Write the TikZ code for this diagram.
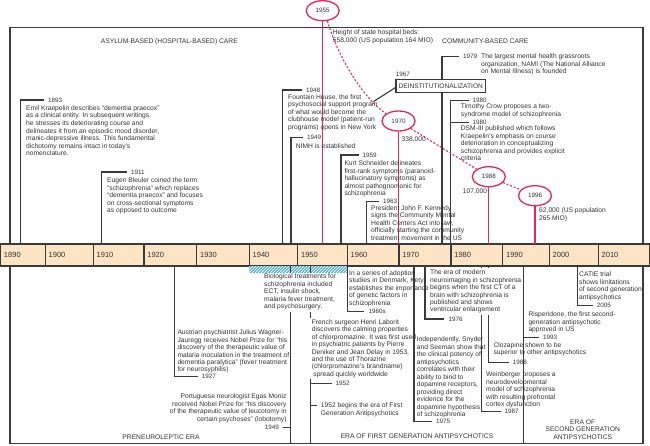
\documentclass[tikz,border=0pt]{standalone}
\usepackage{fontspec}
\setmainfont{Liberation Sans}
\usetikzlibrary{shapes.geometric}
\definecolor{ink}{HTML}{333333}
\definecolor{lin}{HTML}{3A3A3A}
\definecolor{peach}{HTML}{FCE4C4}
\definecolor{hred}{HTML}{E5285A}
\definecolor{hblue}{HTML}{2FA8E0}
\begin{document}
\begin{tikzpicture}[x=1pt,y=-1pt,
  txt/.style={font=\fontsize{6.7}{7.45}\selectfont, inner sep=0pt, align=left, anchor=north west, text=ink, execute at begin node={\rule{0pt}{5.3pt}}},
  txtf/.style={txt, fill=white, inner xsep=2pt, inner ysep=1.5pt},
  yr/.style={font=\fontsize{6.3}{7}\selectfont, inner xsep=4pt, inner ysep=0pt, anchor=west, text=ink},
  tl/.style={font=\fontsize{7.5}{8}\selectfont, inner sep=0pt, anchor=west, text=ink},
  cell/.style={draw=lin, fill=peach, line width=1.1pt},
  frame/.style={draw=lin, line width=1.2pt},
  br/.style={draw=lin, line width=1.1pt},
  rl/.style={draw=hred, line width=1.2pt},
  rd/.style={draw=hred, line width=1.1pt, dash pattern=on 2pt off 1.8pt},
  ell/.style={ellipse, draw=hred, line width=1.3pt, minimum width=33pt, minimum height=20pt, inner sep=0pt, fill=white, font=\fontsize{6.3}{7}\selectfont, text=ink},
  boxst/.style={draw=lin, line width=1.4pt, fill=white, minimum width=89.3pt, minimum height=12.7pt, inner sep=0pt, font=\fontsize{6.6}{7}\selectfont, text=ink}
]
\useasboundingbox (0,0) rectangle (650,445);

% frame
\draw[frame] (10,27.7) rectangle (643,443.5);

% timeline
\foreach \a/\b/\t in {0.6/45.3/1890,45.3/93.3/1900,93.3/144/1910,144/196.7/1920,196.7/249.3/1930,249.3/297.7/1940,297.7/347.3/1950,347.3/399/1960,399/451/1970,451/502.7/1980,502.7/549.3/1990,549.3/598.3/2000,598.3/649.4/2010}{
  \draw[cell] (\a,244) rectangle (\b,266);
  \node[tl] (t\t) at (\a+3.2,255) {\t};
}

% hatched bar
\begin{scope}
\clip (249.3,266.6) rectangle (347.3,272.6);
\fill[hblue] (249.3,266) rectangle (347.3,273);
\foreach \k in {0,...,36} \draw[white,line width=0.8pt] ({243+3*\k},273) -- ({250+3*\k},266);
\end{scope}

% year labels
\node[yr] (y1893) at (44,100) {1893};
\node[yr] (y1911) at (127,172) {1911};
\node[yr] (y1948) at (302,90) {1948};
\node[yr] (y1949) at (303,137.3) {1949};
\node[yr] (y1959) at (358.5,155) {1959};
\node[yr] (y1963) at (379,201.7) {1963};
\node[yr] (y1979) at (459,56.7) {1979};
\node[yr] (y1980a) at (468.5,100.5) {1980};
\node[yr] (y1980b) at (468.5,122.7) {1980};
\node[yr] (y1967) at (391.7,74.3) {1967};
\node[yr] (y1927) at (197.7,376.7) {1927};
\node[yr] (y1960s) at (364.3,311.7) {1960s};
\node[yr] (y1976) at (444.3,319) {1976};
\node[yr] (y2005) at (592.7,305.5) {2005};
\node[yr] (y1975) at (432,421.7) {1975};
\node[yr] (y1952) at (331.5,383.3) {1952};
\node[yr] (y1993) at (539,337.7) {1993};
\node[yr] (y1988) at (508.7,362.3) {1988};
\node[yr] (y1987) at (500.5,411.7) {1987};
\node[yr,anchor=east] (y1949m) at (283,427.5) {1949};

% coordinates
\coordinate (a1893) at (20.7,244);
\coordinate (a1911) at (101.7,244);
\coordinate (a1948) at (282.7,244);
\coordinate (a1949) at (291,244);
\coordinate (a1959) at (341,244);
\coordinate (a1963) at (366.7,244);
\coordinate (a1979) at (442,244);
\coordinate (a1980) at (450.7,244);
\coordinate (a1927) at (174.7,266);
\coordinate (a1949m) at (290.7,266);
\coordinate (z1949m) at (290.7,443.5);
\coordinate (a1952) at (310.7,266);
\coordinate (z1952) at (310.7,443.5);
\coordinate (a1960s) at (347.3,266);
\coordinate (a1976) at (425,266);
\coordinate (a1987) at (481.7,266);
\coordinate (a1988) at (488.3,266);
\coordinate (a1993) at (523.5,266);
\coordinate (z1993) at (523.5,443.5);
\coordinate (a2005) at (577.3,266);
\coordinate (a1975) at (414,266);
\coordinate (c52a) at (310.7,405.7);
\coordinate (c52b) at (317.3,405.7);
\coordinate (dcon) at (373.5,101.5);
\coordinate (r55) at (322.7,244);
\coordinate (r70) at (398.5,244);
\coordinate (r88) at (488.8,244);
\coordinate (r96) at (535,244);

% ellipses
\node[ell] (e55) at (322.7,10.7) {1955};
\node[ell] (e70) at (398.5,121) {1970};
\node[ell] (e88) at (488.8,176.7) {1988};
\node[ell] (e96) at (535,195.7) {1996};

% bracket lines
\draw[br] (a1893) |- (y1893.west);
\draw[br] (a1911) |- (y1911.west);
\draw[br] (a1948) |- (y1948.west);
\draw[br] (a1949) |- (y1949.west);
\draw[br] (a1959) |- (y1959.west);
\draw[br] (a1963) |- (y1963.west);
\draw[br] (a1979) |- (y1979.west);
\draw[br] (a1980) |- (y1980a.west);
\draw[br] (a1980) |- (y1980b.west);
\draw[br] (a1927) |- (y1927.west);
\draw[br] (a1949m) -- (z1949m);
\draw[br] (z1949m) |- (y1949m.east);
\draw[br] (a1952) -- (z1952);
\draw[br] (a1952) |- (y1952.west);
\draw[br] (c52a) -- (c52b);
\draw[br] (a1960s) |- (y1960s.west);
\draw[br] (a1976) |- (y1976.west);
\draw[br] (a1987) |- (y1987.west);
\draw[br] (a1988) |- (y1988.west);
\draw[br] (a2005) |- (y2005.west);

% red lines
\draw[rl] (e55) -- (r55);
\draw[rl] (e70) -- (r70);
\draw[rl] (e88) -- (r88);
\draw[rl] (e96) -- (r96);
\draw[rd] (e55.-65) .. controls (334,45) and (356,92) .. (e70.150);
\draw[rd] (e70) -- (e88);
\draw[rd] (e88) -- (e96);

% filled text nodes
\node[txtf] (bio) at (262,272.4) {Biological treatments for\\schizophrenia included\\ECT, insulin shock,\\malaria fever treatment,\\and psychosurgery.};
\node[txtf] (french) at (309.7,317.7) {French surgeon Henri Laborit\\discovers the calming properties\\of chlorpromazine. It was first used\\in psychiatric patients by Pierre\\Deniker and Jean Delay in 1953,\\and the use of Thorazine\\(chlorpromazine’s brandname)\\\hspace*{1.5pt}spread quickly worldwide};
\node[txtf] (neuro) at (428,268.1) {The era of modern\\neuroimaging in schizophrenia\\begins when the first CT of a\\brain with schizophrenia is\\published and shows\\ventricular enlargement};
\node[boxst] (deinst) at (440.8,86) {DEINSTITUTIONALIZATION};

% lines on top of filled nodes
\draw[br] (a1975) |- (y1975.west);
\draw[br] (a1993) -- (z1993);
\draw[br] (a1993) |- (y1993.west);
\draw[br] (deinst.182) -- (dcon);

% other text
\node[txt, font=\fontsize{6.7}{7.6}\selectfont] (kraep) at (26,105.2) {Emil Kraepelin describes “dementia praecox”\\as a clinical entity. In subsequent writings,\\he stresses its deteriorating course and\\delineates it from an episodic mood disorder,\\manic-depressive illness. This fundamental\\dichotomy remains intact in today’s\\nomenclature.};
\node[txt] (bleuler) at (107,177.6) {Eugen Bleuler coined the term\\“schizophrenia” which replaces\\“dementia praecox” and focuses\\on cross-sectional symptoms\\as opposed to outcome};
\node[txt] (fountain) at (288,94.2) {Fountain House, the first\\psychosocial support program\\of what would become the\\clubhouse model (patient-run\\programs) opens in New York};
\node[txt] (nimh) at (295.7,143.2) {NIMH is established};
\node[txt] (height) at (332.7,29.9) {Height of state hospital beds:\\558,000 (US population 164 MIO)};
\node[txt, anchor=north, align=center] (asylum) at (169.3,37.6) {ASYLUM-BASED (HOSPITAL-BASED) CARE};
\node[txt] (community) at (442,37.9) {COMMUNITY-BASED CARE};
\node[txt] (nami) at (481,53.9) {The largest mental health grassroots\\organization, NAMI (The National Alliance\\on Mental Illness) is founded};
\node[txt] (crow) at (460.7,103.6) {Timothy Crow proposes a two-\\syndrome model of schizophrenia};
\node[txt] (dsm) at (460.7,125.9) {DSM-III published which follows\\Kraepelin’s emphasis on course\\deterioration in conceptualizing\\schizophrenia and provides explicit\\criteria};
\node[txt] (schneider) at (344.3,160.9) {Kurt Schneider delineates\\first-rank symptoms (paranoid-\\hallucinatory symptoms) as\\almost pathognomonic for\\schizophrenia};
\node[txt] (jfk) at (371,205.2) {President John F. Kennedy\\signs the Community Mental\\Health Centers Act into law,\\officially starting the community\\treatment movement in the US};
\node[txt] (v338) at (401.5,136.2) {338,000};
\node[txt, anchor=north east] (v107) at (487.3,187.9) {107,000};
\node[txt] (v62) at (539,207.9) {62,000 (US population\\265 MIO)};
\node[txt] (kety) at (349,270.2) {In a series of adoption\\studies in Denmark, Kety\\establishes the importance\\of genetic factors in\\schizophrenia};
\node[txt] (catie) at (579,271.9) {CATIE trial\\shows limitations\\of second generation\\antipsychotics};
\node[txt] (austrian) at (177.3,329.6) {Austrian psychiatrist Julius Wagner-\\Jauregg receives Nobel Prize for “his\\discovery of the therapeutic value of\\malaria inoculation in the treatment of\\dementia paralytica” (fever treatment\\for neurosyphilis)};
\node[txt] (era52) at (320.7,402.6) {1952 begins the era of First\\Generation Antipsychotics};
\node[txt, anchor=north east, align=right] (moniz) at (286.7,393.6) {Portuguese neurologist Egas Moniz\\received Nobel Prize for “his discovery\\of the therapeutic value of leucotomy in\\certain psychoses” (lobotomy)};
\node[txt] (snyder) at (416.7,336.9) {Independently, Snyder\\and Seeman show that\\the clinical potency of\\antipsychotics\\correlates with their\\ability to bind to\\dopamine receptors,\\providing direct\\evidence for the\\dopamine hypothesis\\of schizophrenia};
\node[txt] (risp) at (528.3,311.9) {Risperidone, the first second-\\generation antipsychotic\\approved in US};
\node[txt] (cloz) at (493.3,342.4) {Clozapine shown to be\\superior to other antipsychotics};
\node[txt] (wein) at (486,371.9) {Weinberger proposes a\\neurodevelopmental\\model of schizophrenia\\with resulting prefrontal\\cortex dysfunction};
\node[txt, anchor=north, align=center] (prene) at (161,433.6) {PRENEUROLEPTIC ERA};
\node[txt, anchor=north, align=center] (erafirst) at (417,432.6) {ERA OF FIRST GENERATION ANTIPSYCHOTICS};
\node[txt, anchor=north, align=center] (erasecond) at (582.7,419.6) {ERA OF\\SECOND GENERATION\\ANTIPSYCHOTICS};
\end{tikzpicture}
\end{document}
